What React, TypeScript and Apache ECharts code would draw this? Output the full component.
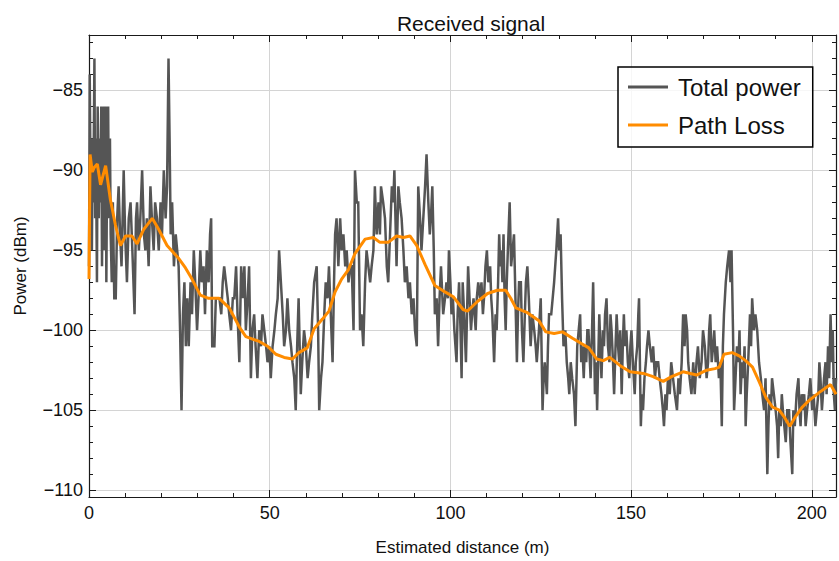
import React, { useEffect, useRef } from "react";
import * as echarts from "echarts";

const titleText = "Received signal";
const xAxisName = "Estimated distance (m)";
const yAxisName = "Power (dBm)";
const seriesNames = ["Total power", "Path Loss"];

// Total power: [distance (m), power (dBm)]
const totalPower: [number, number][] = [
  [0.0, -96], [0.2, -84], [0.4, -90], [0.6, -88], [0.8, -95], [1.0, -88], [1.2, -92], [1.5, -83], [1.7, -93], [1.9, -88],
  [2.2, -97], [2.4, -86], [2.7, -93], [2.9, -88], [3.1, -92], [3.4, -86], [3.6, -96], [3.8, -89], [4.1, -86], [4.3, -95],
  [4.6, -86], [4.8, -97], [5.0, -90], [5.3, -86], [5.5, -93], [5.8, -88], [6.0, -94], [6.3, -97], [6.6, -92], [7.0, -98],
  [7.4, -98], [7.8, -93], [8.2, -91], [8.6, -94], [9.0, -96], [9.6, -90], [10.0, -94], [10.5, -97], [11.0, -93], [11.5, -92],
  [12.0, -95], [12.6, -99], [13.0, -93], [13.3, -92], [13.8, -95], [14.2, -93], [14.7, -90], [15.2, -94], [15.6, -95], [16.0, -93],
  [16.5, -96], [17.0, -91], [17.4, -93], [17.9, -95], [18.3, -92], [18.8, -93], [19.3, -95], [19.8, -92], [20.2, -94], [20.7, -90],
  [21.2, -93], [21.6, -91], [22.0, -83], [22.3, -88], [22.6, -94], [23.0, -92], [23.5, -96], [24.0, -94], [24.4, -95], [24.8, -96],
  [25.2, -100], [25.6, -105], [26.0, -99], [26.4, -97], [26.8, -101], [27.2, -98], [27.6, -101], [28.1, -97], [28.5, -99], [29.0, -95],
  [29.4, -97], [29.9, -100], [30.3, -98], [30.8, -95], [31.2, -97], [31.7, -96], [32.1, -99], [32.6, -95], [33.1, -97], [33.5, -94],
  [33.8, -93], [34.1, -101], [34.7, -101], [35.1, -98], [35.6, -98], [36.1, -98], [36.6, -99], [37.0, -97], [37.4, -96], [37.9, -97],
  [38.4, -98], [38.8, -99], [39.3, -100], [39.8, -98], [40.2, -98], [40.7, -96], [41.1, -99], [41.6, -102], [42.1, -96], [42.5, -98],
  [43.0, -96], [43.4, -100], [43.9, -98], [44.3, -96], [44.8, -103], [45.2, -100], [45.7, -99], [46.1, -101], [46.6, -103], [47.1, -100],
  [47.6, -101], [48.0, -99], [48.5, -100], [49.0, -101], [49.4, -102], [49.9, -101], [50.3, -103], [50.8, -101], [51.3, -100], [51.7, -99],
  [52.2, -98], [52.6, -95], [53.1, -97], [53.6, -99], [54.0, -101], [54.5, -100], [54.9, -98], [55.4, -100], [55.9, -101], [56.3, -102],
  [56.8, -103], [57.2, -105], [57.6, -101], [58.0, -98], [58.3, -101], [58.6, -104], [59.0, -102], [59.5, -100], [60.0, -101], [60.5, -103],
  [60.9, -102], [61.4, -101], [61.8, -99], [62.3, -97], [63.0, -96], [63.4, -100], [63.7, -105], [64.2, -103], [64.6, -102], [65.1, -99],
  [65.5, -97], [66.0, -98], [66.4, -96], [66.9, -99], [67.4, -102], [67.8, -97], [68.1, -94], [68.5, -93], [69.0, -96], [69.5, -93],
  [69.9, -95], [70.4, -94], [70.9, -96], [71.3, -95], [71.8, -97], [72.3, -96], [72.7, -96], [73.2, -100], [73.6, -90], [74.1, -92],
  [74.5, -92], [75.0, -100], [75.4, -99], [75.9, -101], [76.4, -97], [76.8, -95], [77.3, -96], [77.8, -97], [78.2, -96], [78.7, -95],
  [79.1, -91], [79.6, -94], [80.1, -92], [80.5, -94], [80.8, -91], [81.4, -92], [81.9, -93], [82.4, -96], [82.8, -97], [83.3, -94],
  [83.8, -91], [84.2, -92], [84.5, -90], [85.1, -96], [85.6, -91], [86.0, -92], [86.5, -93], [87.0, -95], [87.4, -97], [87.9, -96],
  [88.4, -98], [88.8, -97], [89.3, -99], [89.8, -98], [90.2, -100], [90.7, -101], [91.1, -91], [91.6, -93], [92.0, -95], [92.5, -93],
  [93.0, -91], [93.4, -89], [93.9, -92], [94.3, -94], [94.6, -93], [95.0, -91], [95.4, -95], [95.7, -99], [96.2, -98], [96.6, -101],
  [97.0, -98], [97.4, -96], [98.0, -99], [98.5, -98], [98.9, -97], [99.3, -98], [99.6, -95], [100.0, -97], [100.3, -99], [100.7, -98],
  [101.1, -100], [101.7, -102], [102.0, -99], [102.4, -97], [102.8, -100], [103.1, -103], [103.4, -97], [103.8, -99], [104.3, -102], [104.9, -96],
  [105.3, -98], [105.7, -100], [106.0, -99], [106.4, -98], [107.0, -100], [107.3, -98], [107.7, -97], [108.2, -98], [108.6, -97], [109.0, -99],
  [109.3, -98], [109.7, -96], [110.1, -95], [110.5, -97], [111.0, -96], [111.3, -98], [111.6, -99], [112.1, -102], [112.5, -99], [112.8, -100],
  [113.2, -97], [113.5, -94], [113.8, -96], [114.1, -95], [114.4, -97], [114.7, -94], [115.0, -98], [115.3, -100], [115.6, -97], [115.9, -95],
  [116.4, -92], [116.8, -96], [117.2, -95], [117.6, -94], [118.0, -98], [118.4, -102], [118.7, -99], [119.0, -97], [119.5, -97], [119.8, -100],
  [120.2, -102], [120.6, -99], [120.9, -97], [121.3, -96], [121.7, -98], [122.2, -101], [122.7, -99], [123.2, -100], [123.6, -101], [123.9, -102],
  [124.5, -100], [125.0, -98], [125.5, -105], [125.8, -103], [126.1, -102], [126.7, -104], [127.0, -101], [127.3, -99], [127.9, -99], [128.3, -98],
  [128.7, -97], [129.0, -96], [129.3, -95], [129.8, -93], [130.1, -95], [130.5, -94], [130.9, -98], [131.3, -101], [131.8, -100], [132.2, -102],
  [132.6, -103], [132.9, -104], [133.3, -102], [133.7, -103], [134.2, -104], [134.6, -106], [135.1, -101], [135.5, -100], [135.9, -99], [136.2, -102],
  [136.5, -101], [136.9, -103], [137.2, -101], [137.6, -102], [137.9, -100], [138.2, -100], [138.6, -102], [138.8, -103], [139.2, -100], [139.5, -97],
  [139.8, -101], [140.0, -104], [140.3, -102], [140.6, -105], [140.9, -102], [141.2, -99], [141.5, -101], [141.8, -103], [142.2, -100], [142.5, -101],
  [142.8, -99], [143.2, -98], [143.6, -101], [144.0, -102], [144.3, -99], [144.6, -100], [145.0, -102], [145.3, -104], [145.7, -101], [146.0, -99],
  [146.4, -101], [146.7, -102], [147.0, -100], [147.4, -104], [147.7, -101], [148.0, -99], [148.3, -101], [148.7, -100], [149.1, -102], [149.5, -103],
  [149.8, -101], [150.1, -100], [150.5, -102], [151.0, -104], [151.3, -102], [151.7, -101], [152.0, -99], [152.2, -98], [152.5, -103], [152.7, -106],
  [153.0, -104], [153.3, -105], [153.7, -103], [154.1, -102], [154.4, -101], [154.8, -100], [155.2, -101], [155.7, -102], [156.1, -101], [156.6, -103],
  [157.0, -102], [157.5, -102], [157.9, -103], [158.4, -104], [158.8, -105], [159.1, -106], [159.5, -104], [159.8, -105], [160.2, -103], [160.7, -104],
  [161.1, -102], [161.6, -103], [162.1, -104], [162.7, -105], [163.1, -103], [163.5, -104], [164.0, -102], [164.4, -99], [164.8, -101], [165.1, -99],
  [165.5, -100], [165.8, -102], [166.2, -103], [166.7, -104], [167.2, -102], [167.6, -104], [168.1, -102], [168.5, -101], [169.0, -103], [169.5, -102],
  [169.9, -100], [170.4, -101], [170.9, -103], [171.3, -102], [171.6, -100], [171.9, -99], [172.3, -102], [172.7, -101], [173.0, -100], [173.4, -102],
  [173.8, -101], [174.3, -103], [174.7, -102], [175.1, -106], [175.4, -101], [175.7, -99], [176.2, -97], [176.6, -96], [177.1, -95], [177.5, -97],
  [177.8, -95], [178.2, -100], [178.5, -105], [178.9, -103], [179.3, -101], [179.7, -102], [180.0, -100], [180.3, -104], [180.7, -102], [181.0, -103],
  [181.4, -101], [181.7, -106], [182.0, -104], [182.4, -102], [182.9, -99], [183.2, -101], [183.5, -98], [184.0, -100], [184.4, -99], [184.9, -100],
  [185.4, -102], [185.9, -103], [186.3, -104], [186.8, -105], [187.2, -103], [187.7, -109], [188.0, -106], [188.3, -104], [188.7, -105], [189.0, -103],
  [189.5, -104], [190.0, -105], [190.4, -106], [190.7, -108], [191.0, -105], [191.4, -106], [191.7, -104], [192.0, -105], [192.4, -106], [192.8, -107],
  [193.2, -105], [193.7, -105], [194.1, -107], [194.6, -109], [194.9, -105], [195.3, -106], [195.8, -104], [196.3, -103], [196.6, -105], [196.9, -106],
  [197.2, -104], [197.5, -105], [197.9, -104], [198.3, -106], [198.7, -105], [199.2, -104], [199.6, -103], [200.1, -105], [200.5, -104], [201.0, -106],
  [201.4, -105], [201.8, -104], [202.1, -102], [202.4, -103], [202.8, -105], [203.1, -104], [203.4, -103], [203.8, -102], [204.1, -104], [204.5, -101],
  [204.8, -103], [205.2, -99], [205.5, -102], [205.8, -100], [206.1, -104], [206.4, -105], [206.7, -103],
];

// Path loss: [distance (m), power (dBm)]
const pathLoss: [number, number][] = [
  [0, -96.8], [0.3, -89.0], [0.9, -90.1], [1.5, -89.8], [2.3, -89.6], [3.2, -90.9], [4.6, -89.7], [5.9, -91.8], [7.3, -93.4], [8.7, -94.7],
  [10.1, -94.1], [11.9, -94.1], [13.3, -94.6], [15.1, -93.7], [17.5, -93.0], [19.3, -93.7], [21.6, -94.7], [24.8, -95.5], [26.7, -96.1], [28.5, -96.8],
  [30.8, -97.8], [33.1, -98.0], [36.0, -98.0], [38.8, -98.6], [41.6, -99.8], [43.4, -100.4], [47.1, -100.7], [49.4, -101.0], [51.7, -101.5], [54.0, -101.7],
  [56.3, -101.8], [58.1, -101.4], [60.4, -101.1], [62.3, -99.9], [64.6, -99.3], [66.4, -98.8], [68.1, -97.6], [69.9, -96.8], [71.8, -96.2], [73.6, -95.2],
  [76.4, -94.3], [78.7, -94.2], [80.5, -94.5], [82.8, -94.5], [85.1, -94.1], [87.0, -94.2], [88.8, -94.1], [90.7, -94.7], [93.0, -95.9], [95.7, -97.2],
  [98.5, -97.6], [100.8, -97.9], [103.5, -98.7], [104.7, -98.8], [107.5, -98.2], [110.3, -97.7], [113.0, -97.5], [115.3, -97.5], [116.7, -98.0], [118.1, -98.6],
  [121.3, -98.9], [124.5, -99.4], [126.4, -100.1], [128.7, -100.2], [131.0, -100.1], [133.8, -100.5], [136.0, -100.8], [138.3, -101.1], [140.5, -101.8], [142.3, -101.9],
  [144.1, -101.7], [146.9, -102.2], [149.7, -102.6], [153.4, -102.7], [156.1, -102.9], [158.9, -103.2], [161.2, -102.9], [164.4, -102.6], [168.1, -102.8], [170.9, -102.5],
  [173.2, -102.4], [174.4, -102.3], [175.7, -101.5], [178.0, -101.4], [179.9, -101.6], [181.7, -101.9], [183.6, -102.3], [185.4, -103.2], [187.3, -104.2], [189.1, -104.8],
  [191.0, -105.0], [192.3, -105.4], [193.9, -106.0], [195.5, -105.4], [197.4, -104.8], [199.2, -104.4], [202.0, -103.9], [204.5, -103.5], [205.2, -103.4], [206.7, -104.0],
];

const xMin = 0;
const xMax = 206.7;
const yMin = -110.43;
const yMax = -81.53;
const xStep = 50;
const yStep = 5;

const FONT = "'Liberation Sans', Arial, Helvetica, sans-serif";
const FRAME = "#1a1a1a";

function fmt(step: number) {
  return (v: number) => {
    const k = v / step;
    if (Math.abs(k - Math.round(k)) > 1e-6) return "";
    const r = Math.round(v);
    return r < 0 ? "\u2212" + Math.abs(r) : String(r);
  };
}

export default function App() {
  const ref = useRef<HTMLDivElement>(null);
  useEffect(() => {
    document.body.style.margin = "0";
    const chart = echarts.init(ref.current!, undefined, { renderer: "svg" });
    const tickCommon = { inside: true, length: 7, lineStyle: { color: FRAME, width: 1 } };
    const minorCommon = { show: true, splitNumber: 5, length: 4, lineStyle: { color: FRAME, width: 1 } };
    chart.setOption({
      animation: false,
      backgroundColor: "#fff",
      title: {
        text: titleText,
        left: 466,
        textAlign: "center",
        top: 8,
        textStyle: { fontFamily: FONT, fontSize: 21, fontWeight: "normal", color: "#111" },
      },
      legend: {
        orient: "vertical",
        left: 618,
        top: 67,
        padding: [6, 12, 8, 10],
        itemGap: 10,
        itemWidth: 40,
        itemHeight: 3,
        icon: "rect",
        backgroundColor: "rgba(255,255,255,0.8)",
        borderColor: "#000",
        borderWidth: 1.5,
        textStyle: { fontFamily: FONT, fontSize: 24, color: "#111", lineHeight: 28, padding: [0, 0, 0, 5] },
        data: seriesNames,
      },
      grid: { left: 89, right: 1, top: 35, bottom: 60, containLabel: false },
      xAxis: [
        {
          type: "value",
          min: xMin,
          max: xMax,
          interval: xStep,
          position: "bottom",
          name: xAxisName,
          nameLocation: "middle",
          nameGap: 42,
          nameTextStyle: { fontFamily: FONT, fontSize: 17, color: "#111" },
          axisLine: { show: true, onZero: false, lineStyle: { color: FRAME, width: 1.2 } },
          axisTick: tickCommon,
          minorTick: minorCommon,
          axisLabel: { fontFamily: FONT, fontSize: 18, color: "#111", margin: 7, formatter: fmt(xStep) },
          splitLine: { show: true, lineStyle: { color: "#d4d4d4", width: 1 } },
        },
        {
          type: "value",
          min: xMin,
          max: xMax,
          interval: xStep,
          position: "top",
          axisLine: { show: true, onZero: false, lineStyle: { color: FRAME, width: 1.2 } },
          axisTick: tickCommon,
          minorTick: minorCommon,
          axisLabel: { show: false },
          splitLine: { show: false },
        },
      ],
      yAxis: [
        {
          type: "value",
          min: yMin,
          max: yMax,
          splitNumber: 5,
          position: "left",
          name: yAxisName,
          nameLocation: "middle",
          nameGap: 60,
          nameTextStyle: { fontFamily: FONT, fontSize: 17, color: "#111" },
          axisLine: { show: true, onZero: false, lineStyle: { color: FRAME, width: 1.2 } },
          axisTick: tickCommon,
          minorTick: minorCommon,
          axisLabel: { fontFamily: FONT, fontSize: 18, color: "#111", margin: 6, formatter: fmt(yStep) },
          splitLine: { show: true, lineStyle: { color: "#d4d4d4", width: 1 } },
        },
        {
          type: "value",
          min: yMin,
          max: yMax,
          splitNumber: 5,
          position: "right",
          axisLine: { show: true, onZero: false, lineStyle: { color: FRAME, width: 1.2 } },
          axisTick: tickCommon,
          minorTick: minorCommon,
          axisLabel: { show: false },
          splitLine: { show: false },
        },
      ],
      series: [
        {
          name: seriesNames[0],
          type: "line",
          data: totalPower,
          showSymbol: false,
          symbol: "none",
          lineStyle: { color: "#555555", width: 2.5, join: "miter" },
          itemStyle: { color: "#555555" },
          z: 2,
        },
        {
          name: seriesNames[1],
          type: "line",
          data: pathLoss,
          showSymbol: false,
          symbol: "none",
          lineStyle: { color: "#FF8C00", width: 3 },
          itemStyle: { color: "#FF8C00" },
          z: 3,
        },
      ],
    });
    return () => chart.dispose();
  }, []);
  return <div ref={ref} style={{ position: "fixed", left: 0, top: 0, width: 839, height: 561 }} />;
}
